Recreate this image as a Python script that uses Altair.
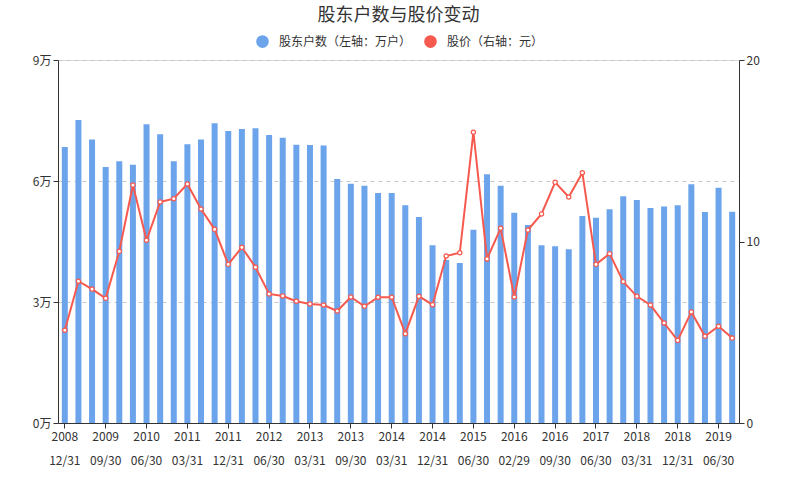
import altair as alt
import pandas as pd

dates = [
    "2008-12-31", "2009-03-31", "2009-06-30", "2009-09-30", "2009-12-31",
    "2010-03-31", "2010-06-30", "2010-09-30", "2010-12-31", "2011-03-31",
    "2011-06-30", "2011-09-30", "2011-12-31", "2012-03-31", "2012-05-31",
    "2012-06-30", "2012-09-30", "2012-12-31", "2013-03-31", "2013-06-30",
    "2013-08-31", "2013-09-30", "2013-12-31", "2014-02-28", "2014-03-31",
    "2014-06-30", "2014-09-30", "2014-12-31", "2015-03-31", "2015-05-31",
    "2015-06-30", "2015-09-30", "2015-12-31", "2016-02-29", "2016-03-31",
    "2016-06-30", "2016-09-30", "2016-12-31", "2017-03-31", "2017-06-30",
    "2017-09-30", "2017-12-31", "2018-03-31", "2018-06-30", "2018-09-30",
    "2018-12-31", "2019-03-31", "2019-04-30", "2019-06-30", "2019-09-30",
]

# 股东户数（万户）
holders = [
    6.84, 7.51, 7.03, 6.35, 6.49, 6.40, 7.41, 7.16, 6.49, 6.91,
    7.03, 7.43, 7.24, 7.29, 7.31, 7.14, 7.07, 6.90, 6.89, 6.88,
    6.05, 5.93, 5.88, 5.70, 5.70, 5.40, 5.11, 4.41, 4.04, 3.97,
    4.79, 6.17, 5.88, 5.21, 4.91, 4.41, 4.38, 4.31, 5.13, 5.09,
    5.30, 5.62, 5.53, 5.33, 5.37, 5.40, 5.92, 5.23, 5.83, 5.24,
]

# 股价（元）
price = [
    5.11, 7.81, 7.38, 6.87, 9.46, 13.11, 10.07, 12.18, 12.36, 13.17,
    11.79, 10.67, 8.74, 9.68, 8.58, 7.11, 7.00, 6.71, 6.56, 6.50,
    6.17, 6.94, 6.43, 6.93, 6.93, 4.92, 6.98, 6.52, 9.20, 9.38,
    16.02, 9.04, 10.73, 6.94, 10.63, 11.52, 13.26, 12.45, 13.79, 8.74,
    9.33, 7.79, 6.98, 6.50, 5.51, 4.55, 6.12, 4.78, 5.33, 4.68,
]

S1 = "股东户数（左轴：万户）"
S2 = "股价（右轴：元）"
BLUE = "#6ca4ec"
RED = "#f65a4f"
FONT = "Noto Sans CJK SC"

df = pd.DataFrame({"date": dates, "holders": holders, "price": price})

x = alt.X(
    "date:N", sort=None, title=None,
    scale=alt.Scale(paddingInner=0, paddingOuter=0),
    axis=alt.Axis(
        values=dates[::3], labelAngle=0,
        labelExpr="[substring(datum.value,0,4), substring(datum.value,5,7) + '/' + substring(datum.value,8,10)]",
        labelLineHeight=24, labelPadding=3, tickSize=5,
        domainColor="#333", tickColor="#333", labelColor="#333",
        labelFontSize=12, labelFont=FONT,
    ),
)

color_scale = alt.Scale(domain=[S1, S2], range=[BLUE, RED])

bars = alt.Chart(df).transform_calculate(s=f"'{S1}'").mark_bar(size=6).encode(
    x=x,
    y=alt.Y(
        "holders:Q", title=None,
        scale=alt.Scale(domain=[0, 9]),
        axis=alt.Axis(
            orient="left", values=[0, 3, 6, 9], labelExpr="datum.value + '万'",
            grid=True, gridDash=[4, 4], gridColor="#c8c8c8",
            domainColor="#333", tickColor="#333", labelColor="#333",
            tickSize=5, labelFontSize=12, labelFont=FONT, labelPadding=2,
        ),
    ),
    color=alt.Color(
        "s:N", scale=color_scale,
        legend=alt.Legend(
            title=None, orient="none", legendX=198, legendY=-25,
            direction="horizontal", symbolType="circle", symbolSize=160,
            symbolStrokeWidth=0, labelFontSize=12, labelFont=FONT,
            labelColor="#333", columnPadding=12, labelOffset=10,
        ),
    ),
)

y_right = alt.Y(
    "price:Q", title=None,
    scale=alt.Scale(domain=[0, 20]),
    axis=alt.Axis(
        orient="right", values=[0, 10, 20], grid=False,
        domainColor="#333", tickColor="#333", labelColor="#333",
        tickSize=5, labelFontSize=12, labelFont=FONT, labelPadding=2,
    ),
)

line = alt.Chart(df).mark_line(color=RED, strokeWidth=2).encode(x=x, y=y_right)
points = alt.Chart(df).mark_point(
    filled=True, fill="white", stroke=RED, strokeWidth=1.2, size=18, opacity=1
).encode(x=x, y=y_right)

chart = alt.layer(bars, alt.layer(line, points)).resolve_scale(
    y="independent"
).properties(
    width=681, height=363,
    autosize=alt.AutoSizeParams(type="none"),
    padding={"left": 58, "top": 60, "right": 61, "bottom": 77},
    title=alt.TitleParams(
        "股东户数与股价变动", fontSize=18, font=FONT, color="#333",
        fontWeight="normal", anchor="middle", offset=10,
    ),
).configure_view(stroke=None).configure(background="white")

chart.save("out.html", embed_options={"renderer": "svg", "actions": False})
